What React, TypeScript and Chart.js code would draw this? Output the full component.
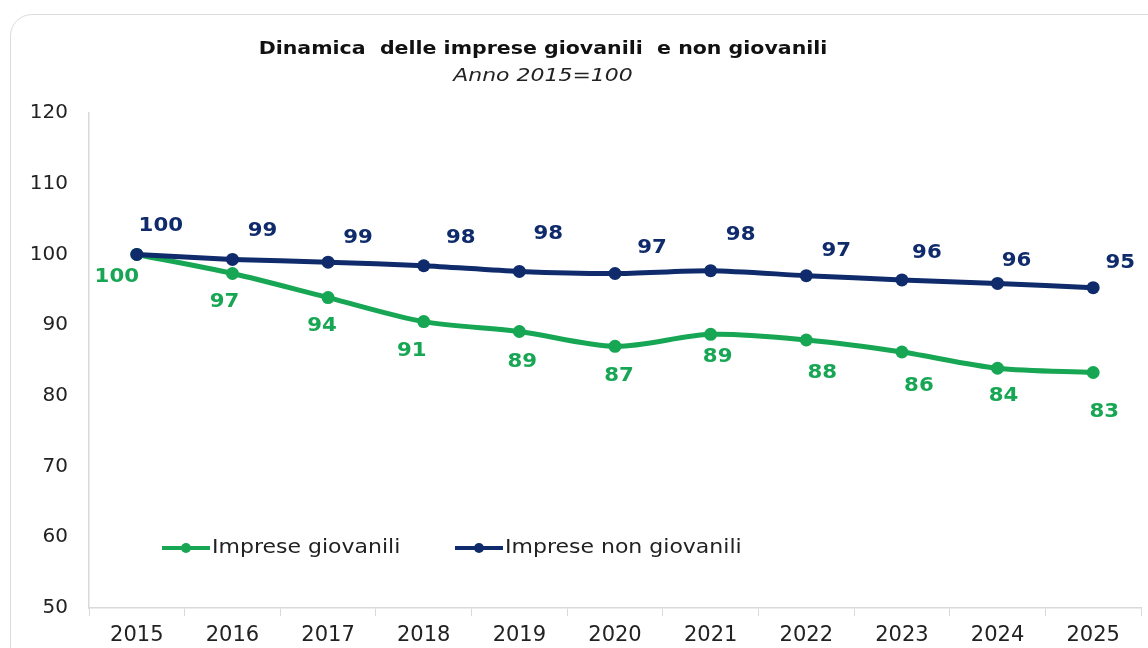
import React, { useEffect, useRef } from "react";
import { Chart, registerables } from "chart.js";

Chart.register(...registerables);

const years = ["2015", "2016", "2017", "2018", "2019", "2020", "2021", "2022", "2023", "2024", "2025"];
const youngValues = [100, 97.3, 93.9, 90.5, 89.1, 87.0, 88.7, 87.9, 86.2, 83.9, 83.3];
const otherValues = [100, 99.3, 98.9, 98.4, 97.6, 97.3, 97.7, 97.0, 96.4, 95.9, 95.3];
const seriesNames = ["Imprese giovanili", "Imprese non giovanili"];
const titleText = "Dinamica  delle imprese giovanili  e non giovanili";
const subtitleText = "Anno 2015=100";
const yMin = 50;
const yMax = 120;
const yStep = 10;

// manual label placement (relative to each point), as in the original
const otherLabelDx = [24, 30, 30, 37, 29, 37, 30, 30, 25, 19, 27];
const otherLabelDy = [-28, -28, -24, -28, -37, -25, -36, -25, -27, -22, -25];
const youngLabelDx = [-20, -8, -6, -12, 3, 4, 7, 16, 17, 6, 11];
const youngLabelDy = [23, 29, 28, 29, 31, 30, 23, 33, 34, 28, 40];

const GREEN = "#17A653";
const NAVY = "#0F2B6B";
const FONT = "'DejaVu Sans', Verdana, sans-serif";

function wideText(ctx: any, text: string, x: number, y: number, sx: number, align: string) {
  ctx.save();
  ctx.translate(x, y);
  ctx.scale(sx, 1);
  ctx.textAlign = align;
  ctx.textBaseline = "middle";
  ctx.fillText(text, 0, 0);
  ctx.restore();
}

const overlayPlugin = {
  id: "overlay",
  afterDatasetsDraw(chart: any) {
    const ctx = chart.ctx;
    ctx.save();
    // data labels
    chart.data.datasets.forEach((ds: any, i: number) => {
      const meta = chart.getDatasetMeta(i);
      ctx.font = `bold 19px ${FONT}`;
      ctx.fillStyle = ds.borderColor;
      meta.data.forEach((pt: any, j: number) => {
        const v = Math.round(ds.data[j]);
        wideText(ctx, String(v), pt.x + ds.labelDx[j], pt.y + ds.labelDy[j], 1.12, "center");
      });
    });
    // title
    ctx.fillStyle = "#111";
    ctx.font = `bold 18px ${FONT}`;
    wideText(ctx, titleText, 543, 49, 1.14, "center");
    ctx.font = `italic 18px ${FONT}`;
    ctx.fillStyle = "#222";
    wideText(ctx, subtitleText, 543, 76, 1.22, "center");
    // legend
    const legendItems = [
      { x: 162, color: GREEN, label: seriesNames[0] },
      { x: 455, color: NAVY, label: seriesNames[1] },
    ];
    const ly = 548;
    legendItems.forEach((it) => {
      ctx.strokeStyle = it.color;
      ctx.lineWidth = 4;
      ctx.beginPath();
      ctx.moveTo(it.x, ly);
      ctx.lineTo(it.x + 48, ly);
      ctx.stroke();
      ctx.fillStyle = it.color;
      ctx.beginPath();
      ctx.arc(it.x + 24, ly, 5, 0, Math.PI * 2);
      ctx.fill();
      ctx.fillStyle = "#222";
      ctx.font = `20px ${FONT}`;
      wideText(ctx, it.label, it.x + 50, ly, 1.1, "left");
    });
    ctx.restore();
  },
};

export default function App() {
  const canvasRef = useRef<HTMLCanvasElement | null>(null);

  useEffect(() => {
    if (!canvasRef.current) return;
    const chart = new Chart(canvasRef.current, {
      type: "line",
      data: {
        labels: years,
        datasets: [
          {
            label: seriesNames[1],
            data: otherValues,
            borderColor: NAVY,
            backgroundColor: NAVY,
            borderWidth: 5,
            pointRadius: 6.5,
            pointBackgroundColor: NAVY,
            pointBorderWidth: 0,
            tension: 0.25,
            labelDx: otherLabelDx,
            labelDy: otherLabelDy,
          } as any,
          {
            label: seriesNames[0],
            data: youngValues,
            borderColor: GREEN,
            backgroundColor: GREEN,
            borderWidth: 5,
            pointRadius: 6.5,
            pointBackgroundColor: GREEN,
            pointBorderWidth: 0,
            tension: 0.3,
            labelDx: youngLabelDx,
            labelDy: youngLabelDy,
          } as any,
        ],
      },
      options: {
        animation: false,
        responsive: false,
        maintainAspectRatio: false,
        layout: { padding: { top: 113, right: 7, left: 0, bottom: 0 } },
        plugins: {
          legend: { display: false },
          title: { display: false },
          tooltip: { enabled: false },
        },
        scales: {
          x: {
            offset: true,
            grid: {
              offset: true,
              drawOnChartArea: false,
              drawTicks: true,
              tickLength: 8,
              color: "#d9d9d9",
            },
            border: { display: true, color: "#d9d9d9", width: 1.5 },
            ticks: {
              color: "#222",
              font: { family: FONT, size: 21 },
              padding: 7,
              maxRotation: 0,
            },
            afterFit: (scale: any) => {
              scale.height = 40;
            },
          },
          y: {
            min: yMin,
            max: yMax,
            grid: { display: false, drawTicks: false },
            border: { display: true, color: "#d9d9d9", width: 1.5 },
            ticks: {
              stepSize: yStep,
              color: "#222",
              font: { family: FONT, size: 20 },
              padding: 21,
            },
            afterFit: (scale: any) => {
              scale.width = 89;
            },
          },
        },
      },
      plugins: [overlayPlugin],
    });
    return () => chart.destroy();
  }, []);

  return (
    <div
      style={{
        position: "fixed",
        left: 0,
        top: 0,
        width: 1148,
        height: 648,
        background: "#fff",
        overflow: "hidden",
      }}
    >
      <div
        style={{
          position: "absolute",
          left: 10,
          top: 14,
          width: 1170,
          height: 680,
          border: "1.5px solid #dcdcdc",
          borderRadius: 22,
          boxSizing: "border-box",
        }}
      />
      <canvas
        ref={canvasRef}
        width={1148}
        height={648}
        style={{ position: "absolute", left: 0, top: 0, width: 1148, height: 648 }}
      />
    </div>
  );
}
